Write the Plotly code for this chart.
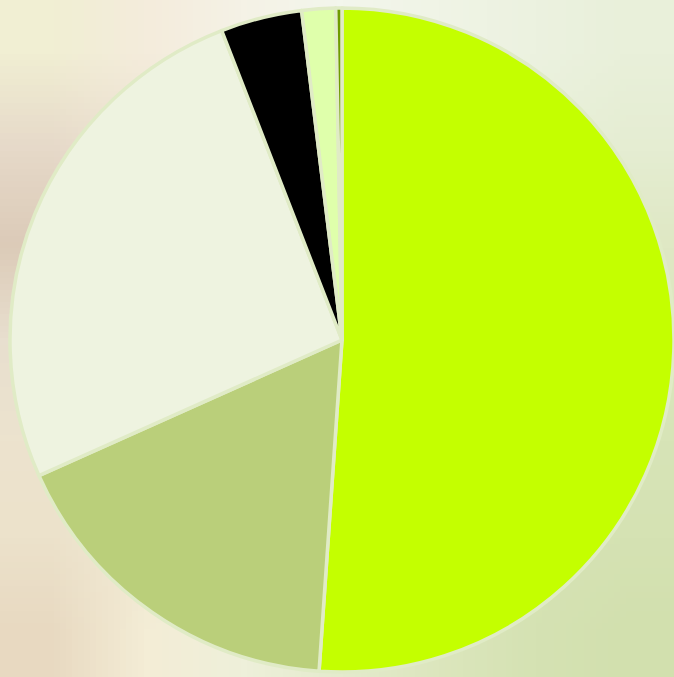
import base64
import struct
import zlib

import plotly.graph_objects as go

# ---- data (clockwise from 12 o'clock) ----
categories = ["Segment 1", "Segment 2", "Segment 3", "Segment 4", "Segment 5", "Segment 6"]
values = [51.1, 17.2, 25.8, 3.96, 1.64, 0.30]
slice_colors = ["#c4ff00", "#bacf7a", "#eef3e0", "#000000", "#dfffab", "#6e9c00"]

# ---- soft photographic-looking backdrop (decoration only) ----
bg_grid = [
    ["f1efd3", "f4ecdc", "f5f2e6", "f3f6ec", "f0f4e6", "ecf2e0", "e9f0da"],
    ["e6d9c9", "eee2d2", "eef0e0", "eef2e0", "eef2e0", "e8f0d8", "e5edd2"],
    ["dccbb8", "e5d8c6", "eef2e0", "eef2e0", "e8efd6", "e2ebc8", "dfe8c4"],
    ["e8dfcf", "ece4d3", "eef2e0", "eef2e0", "e6eed2", "dde8c2", "dbe7be"],
    ["ece3ce", "efe8d4", "edf0dc", "eaf0d8", "e0eac4", "d8e5b8", "d7e4b7"],
    ["ece2cb", "f1e9d3", "ecefd8", "e4ecce", "dbe6bc", "d6e3b4", "d5e2b3"],
    ["e8d9c1", "f4edd6", "eef0da", "e4ebcd", "dce6bd", "d5e2b3", "d2e0ae"],
]


def make_png(grid):
    h = len(grid)
    w = len(grid[0])
    raw = b""
    for row in grid:
        raw += b"\x00" + b"".join(bytes.fromhex(c) for c in row)

    def chunk(tag, data):
        c = struct.pack(">I", len(data)) + tag + data
        return c + struct.pack(">I", zlib.crc32(tag + data) & 0xFFFFFFFF)

    png = b"\x89PNG\r\n\x1a\n"
    png += chunk(b"IHDR", struct.pack(">IIBBBBB", w, h, 8, 2, 0, 0, 0))
    png += chunk(b"IDAT", zlib.compress(raw, 9))
    png += chunk(b"IEND", b"")
    return "data:image/png;base64," + base64.b64encode(png).decode()


fig = go.Figure(
    go.Pie(
        labels=categories,
        values=values,
        sort=False,
        direction="clockwise",
        rotation=0,
        textinfo="none",
        hoverinfo="label+percent",
        marker=dict(colors=slice_colors, line=dict(color="#e0ebc6", width=3.5)),
        domain=dict(x=[0.0148, 1.0], y=[0.0, 0.9956]),
    )
)

fig.update_layout(
    width=674,
    height=677,
    margin=dict(l=0, r=0, t=0, b=0),
    showlegend=False,
    paper_bgcolor="#eef2e0",
    plot_bgcolor="#eef2e0",
    images=[
        dict(
            source=make_png(bg_grid),
            xref="paper",
            yref="paper",
            x=0,
            y=1,
            sizex=1,
            sizey=1,
            xanchor="left",
            yanchor="top",
            sizing="stretch",
            layer="below",
        )
    ],
)

fig.write_html("out.html")
